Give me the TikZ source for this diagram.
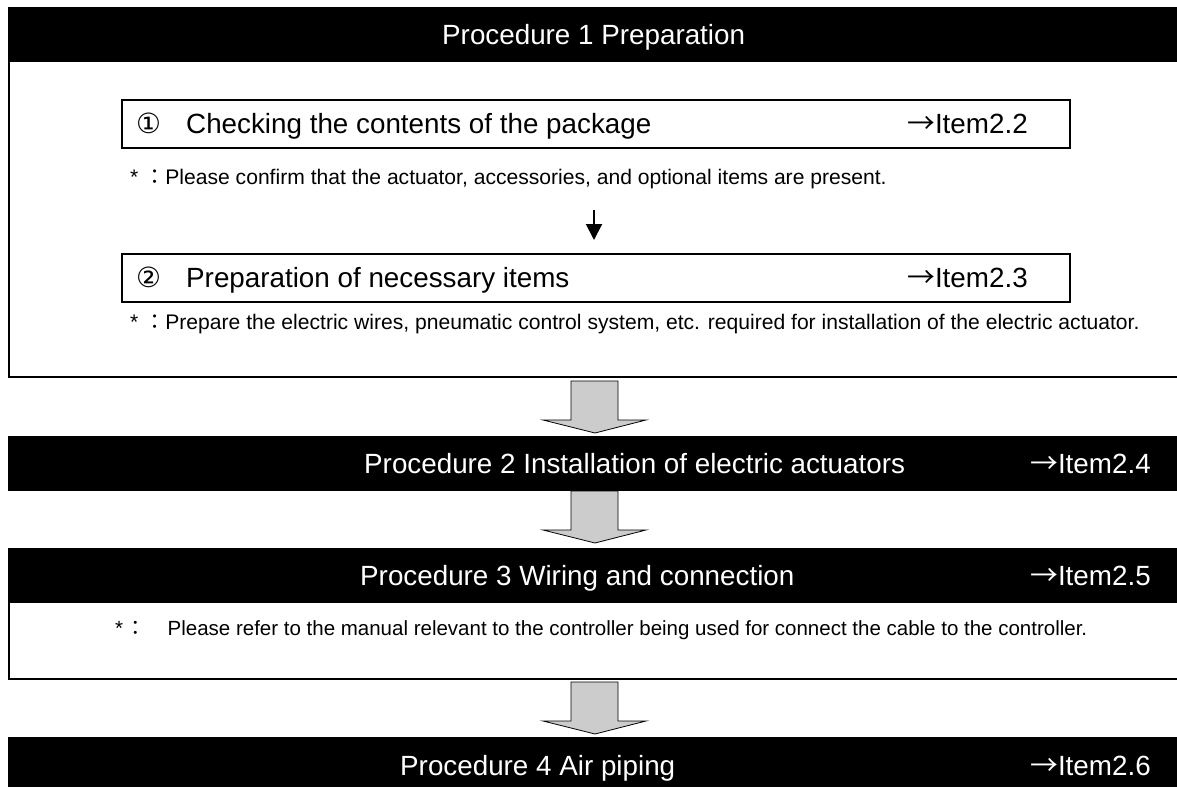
\documentclass[tikz,border=0pt]{standalone}
\usepackage{fontspec}
\setmainfont{Liberation Sans}
\newfontfamily\symfont{DejaVu Sans}
\newfontfamily\cjk{Noto Sans CJK JP}
\usepackage{tikz}
\usetikzlibrary{arrows.meta}

\tikzset{
  bigtext/.style={font=\fontsize{27.8}{33}\selectfont, inner sep=0pt, anchor=base west},
  notetext/.style={font=\fontsize{21.1}{25}\selectfont, inner sep=0pt, anchor=base west},
  bartext/.style={bigtext, text=white},
  frameline/.style={line width=2.5pt},
  itembox/.style={draw, line width=2pt, anchor=north west, minimum width=948pt, minimum height=48pt},
  flowarrow/.style={draw=black, line width=0.8pt, fill=black!20},
}

\begin{document}
\begin{tikzpicture}[x=1pt, y=-1pt]
\useasboundingbox (0,0) rectangle (1177,787);
% black bars
\fill (8,7) rectangle (1177,62);
\fill (8,436) rectangle (1177,491);
\fill (8,548) rectangle (1177,603);
\fill (8,737) rectangle (1177,787);
% open frames under procedure 1 and 3
\draw[frameline] (9,62) -- (9,377) -- (1177,377);
\draw[frameline] (9,603) -- (9,679) -- (1177,679);
% procedure 1
\node[bartext] (proc1) at (442,44.5) {Procedure 1 Preparation};
\node[itembox] (box1) at (121,99) {};
\node[bigtext] (num1) at (136,133) {\symfont ①};
\node[bigtext] (check) at (186,133) {Checking the contents of the package};
\node[bigtext] (ref1) at (907,133) {{\cjk →}Item2.2};
\node[notetext] (note1) at (130,184) {* {\cjk ：}Please confirm that the actuator, accessories, and optional items are present.};
\node[itembox] (box2) at (121,253) {};
\node[bigtext] (num2) at (136,287.5) {\symfont ②};
\node[bigtext] (prep) at (186,287.5) {Preparation of necessary items};
\node[bigtext] (ref2) at (907,287.5) {{\cjk →}Item2.3};
\node[notetext] (note2) at (130,329.5) {* {\cjk ：}Prepare the electric wires, pneumatic control system, etc. required for installation of the electric actuator.};
\coordinate (a1) at (594,210);
\draw[-{Triangle[length=16pt, width=16pt]}, line width=2pt] (a1) -- ([yshift=13pt]box2.north -| a1);
% procedure 2 to 4
\node[bartext] (proc2) at (364,473.5) {Procedure 2 Installation of electric actuators};
\node[bartext] (ref4) at (1030,473.5) {{\cjk →}Item2.4};
\node[bartext] (proc3) at (360,585.5) {Procedure 3 Wiring and connection};
\node[bartext] (ref5) at (1030,585.5) {{\cjk →}Item2.5};
\node[notetext, font=\fontsize{20.5}{24}\selectfont] (note3) at (115,635) {*\hspace{2pt}{\cjk ：}\hspace{22pt}Please refer to the manual relevant to the controller being used for connect the cable to the controller.};
\node[bartext] (proc4) at (400,775) {Procedure 4 Air piping};
\node[bartext] (ref6) at (1030,775) {{\cjk →}Item2.6};
% big arrows
\foreach \t in {381,491,682}
  \draw[flowarrow] (571,\t) -- (571,{\t+39}) -- (543,{\t+39}) -- (595,{\t+52})
    -- (646,{\t+39}) -- (618,{\t+39}) -- (618,\t) -- cycle;
\end{tikzpicture}
\end{document}
